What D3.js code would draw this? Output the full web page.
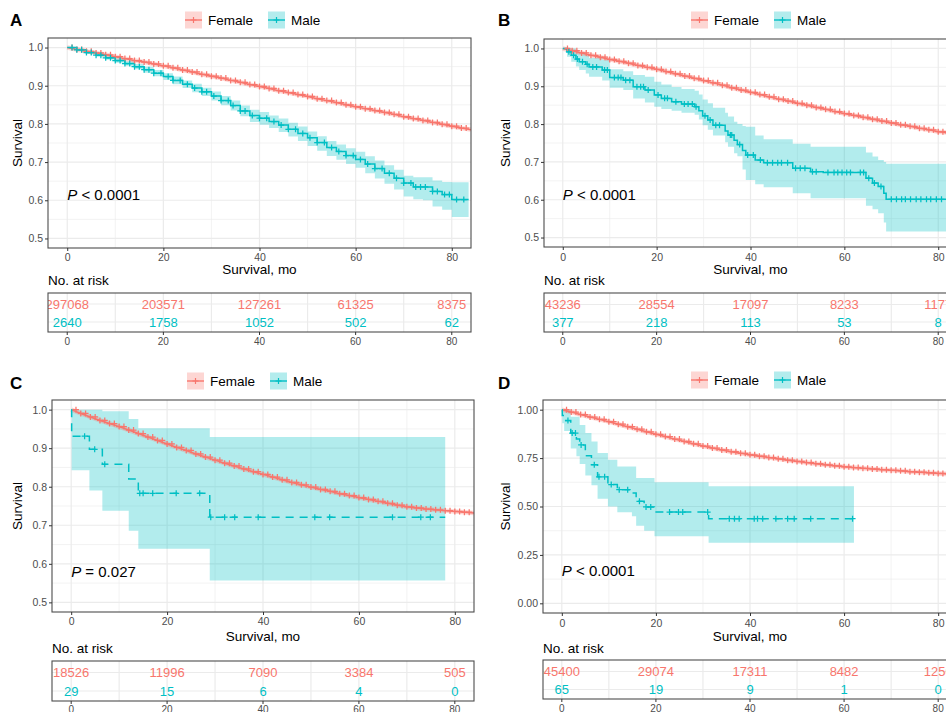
<!DOCTYPE html>
<html>
<head>
<meta charset="utf-8">
<script src="https://cdn.jsdelivr.net/npm/d3@7"></script>
<style>
  body { margin: 0; background: #fff; }
  text { font-family: "Liberation Sans", Arial, Helvetica, sans-serif; }
</style>
</head>
<body>
<svg id="chart" width="946" height="712"></svg>
<script>
// ---------- data ----------
const xTicks = [0, 20, 40, 60, 80];
const xMinor = [10, 30, 50, 70];
const yTicks = [0.5, 0.6, 0.7, 0.8, 0.9, 1.0];
const yMinor = [0.55, 0.65, 0.75, 0.85, 0.95];
const yTicksD = [0, 0.25, 0.5, 0.75, 1.0];
const yMinorD = [0.125, 0.375, 0.625, 0.875];
const groups = ["Female", "Male"];

// female curves, read every 2 months
const femT = [0,2,4,6,8,10,12,14,16,18,20,22,24,26,28,30,32,34,36,38,40,42,44,46,48,50,52,54,56,58,60,62,64,66,68,70,72,74,76,78,80,82,84];
const aFemale = [1.000,.995,.990,.986,.981,.976,.971,.966,.962,.957,.952,.947,.941,.936,.930,.925,.920,.914,.909,.903,.898,.893,.887,.882,.877,.872,.866,.861,.856,.850,.845,.840,.835,.830,.825,.819,.814,.809,.804,.799,.794,.789,.785];
const bFemale = [1.000,.994,.988,.982,.977,.971,.966,.961,.955,.950,.945,.939,.933,.927,.921,.915,.909,.903,.896,.890,.884,.878,.872,.866,.861,.855,.850,.844,.839,.833,.828,.823,.818,.813,.808,.803,.798,.794,.789,.785,.780,.777,.774];
const cFemale = [1.000,.990,.981,.972,.964,.956,.947,.938,.929,.920,.911,.902,.894,.885,.877,.869,.861,.854,.846,.839,.832,.825,.818,.811,.805,.799,.793,.788,.782,.777,.772,.767,.762,.757,.752,.748,.745,.742,.740,.738,.736,.734,.732];
const dFemale = [1.000,.988,.975,.962,.950,.938,.925,.912,.899,.886,.873,.861,.848,.836,.824,.812,.802,.792,.783,.775,.767,.760,.753,.746,.739,.733,.727,.721,.715,.710,.705,.701,.697,.694,.690,.687,.684,.680,.677,.674,.671,.668,.665];
const femaleCensor = [1,2,3,4,5,6,7,8,9,10,11,12,13,14,15,16,17,18,19,20,21,22,23,24,25,26,27,28,29,30,31,32,33,34,35,36,37,38,39,40,41,42,43,44,45,46,47,48,49,50,51,52,53,54,55,56,57,58,59,60,61,62,63,64,65,66,67,68,69,70,71,72,73,74,75,76,77,78,79,80,81,82,83];

// male step curves with 95% CI
const aMaleT = [0,2,4,6,8,10,12,14,16,18,20,22,24,26,28,30,32,34,36,38,40,42,44,46,48,50,52,54,56,58,60,62,64,66,68,70,72,74,76,78,80,82];
const aMaleS = [1.000,0.994,0.987,0.980,0.973,0.966,0.958,0.950,0.942,0.933,0.924,0.914,0.904,0.894,0.884,0.873,0.861,0.848,0.834,0.822,0.815,0.806,0.797,0.786,0.775,0.764,0.751,0.738,0.728,0.717,0.707,0.695,0.683,0.671,0.658,0.645,0.635,0.635,0.623,0.615,0.602,0.602];
const aMaleHi = [1.000,0.996,0.990,0.984,0.978,0.972,0.964,0.957,0.950,0.941,0.933,0.924,0.914,0.905,0.895,0.885,0.873,0.861,0.848,0.837,0.831,0.822,0.814,0.803,0.793,0.780,0.768,0.755,0.746,0.736,0.727,0.715,0.704,0.692,0.680,0.664,0.660,0.660,0.652,0.648,0.647,0.647];
const aMaleLo = [1.000,0.992,0.984,0.976,0.968,0.960,0.952,0.943,0.934,0.925,0.915,0.904,0.894,0.883,0.873,0.861,0.849,0.835,0.820,0.805,0.798,0.789,0.779,0.767,0.755,0.742,0.730,0.716,0.706,0.695,0.685,0.671,0.657,0.643,0.628,0.610,0.603,0.600,0.584,0.575,0.556,0.556];
const aMaleCensor = [1,2,3,4,5,6,7,8,9,10,11,12,13,14,15,16,17,18,19.5,21,22,23.5,25,26.5,28,29,30.5,32,33.5,34.5,36,37,38.5,40,41.5,43,44.5,46,47.5,49,50.5,52,53.5,55,56.5,58,59.5,61,62.5,64,65.5,67,68.5,70,71.5,72.5,73.5,74.5,76,77,78.5,79.5,81,82.5];

const bMaleT = [0,0.9,1.8,2.8,3.5,4.9,5.6,8.4,10.0,12.9,15.0,17.5,19.5,21.0,23.2,25.3,28.1,29.0,29.8,30.9,32.0,34.6,35.2,36.5,37.2,38.3,39.0,41.0,42.8,49.0,52.8,55.5,64.6,66.0,67.2,68.4,68.9];
const bMaleS = [1.000,0.991,0.982,0.972,0.965,0.958,0.951,0.943,0.923,0.916,0.899,0.890,0.877,0.868,0.859,0.853,0.846,0.835,0.822,0.811,0.797,0.782,0.771,0.757,0.746,0.730,0.718,0.705,0.698,0.683,0.674,0.672,0.657,0.644,0.635,0.617,0.601];
const bMaleHi = [1.000,1.000,1.000,0.995,0.990,0.985,0.975,0.970,0.945,0.940,0.930,0.925,0.912,0.905,0.898,0.893,0.888,0.878,0.865,0.855,0.843,0.830,0.820,0.806,0.800,0.795,0.793,0.770,0.760,0.748,0.740,0.740,0.725,0.714,0.705,0.700,0.695];
const bMaleLo = [1.000,0.978,0.965,0.952,0.943,0.934,0.925,0.915,0.896,0.890,0.868,0.857,0.846,0.840,0.835,0.830,0.825,0.812,0.797,0.785,0.770,0.752,0.740,0.723,0.715,0.680,0.652,0.641,0.633,0.617,0.604,0.604,0.584,0.575,0.564,0.540,0.516];
const bMaleCensor = [1.3,2.3,3.1,4.2,5.2,6.4,7.2,8.9,9.5,11.0,11.8,12.4,13.4,14.3,15.8,16.6,17.2,18.2,20.3,21.7,22.3,24.1,25.9,26.7,27.6,28.4,30.3,31.4,32.6,33.4,35.7,36.0,37.7,39.4,40.6,42.1,43.6,44.7,45.8,46.6,47.9,49.6,50.6,51.6,53.2,54.0,56.5,57.8,58.6,59.5,60.5,61.3,63.4,64.1,65.2,66.4,67.8,70.0,71.1,72.2,73.0,74.1,75.3,76.3,77.5,78.4,79.6,80.7];

const cMaleT = [0,0.1,3.8,6.5,12.0,14.0,28.9];
const cMaleS = [1.000,0.931,0.897,0.858,0.820,0.783,0.721];
const cMaleHi = [1.000,1.000,1.000,0.996,0.976,0.952,0.929];
const cMaleLo = [1.000,0.843,0.790,0.738,0.686,0.639,0.557];
const cMaleCensor = [2.8,4.9,7.0,14.3,15.0,17.0,21.9,26.8,29.1,32.0,34.1,39.0,50.8,53.9,67.0,72.9,74.9];

const dMaleT = [0,0.1,0.5,1.9,3.1,3.8,5.0,6.3,7.6,9.8,11.8,14.9,15.8,17.5,19.7,31.2];
const dMaleS = [1.000,0.970,0.944,0.879,0.848,0.818,0.762,0.716,0.653,0.613,0.587,0.570,0.527,0.498,0.471,0.437];
const dMaleHi = [1.000,1.000,1.000,0.964,0.964,0.921,0.879,0.836,0.776,0.742,0.707,0.707,0.647,0.647,0.625,0.604];
const dMaleLo = [1.000,0.930,0.890,0.800,0.760,0.720,0.660,0.610,0.540,0.500,0.470,0.450,0.400,0.375,0.347,0.313];
const dMaleCensor = [1.3,2.2,2.9,4.1,6.9,7.9,9.1,10.5,12.2,14.0,16.5,17.9,18.9,22.9,24.8,25.7,31.0,35.6,36.7,37.7,40.9,41.6,42.7,45.5,48.0,49.4,52.9,61.8];

// numbers at risk at 0, 20, 40, 60, 80 months
const aRiskFemale = [297068, 203571, 127261, 61325, 8375];
const aRiskMale = [2640, 1758, 1052, 502, 62];
const bRiskFemale = [43236, 28554, 17097, 8233, 1177];
const bRiskMale = [377, 218, 113, 53, 8];
const cRiskFemale = [18526, 11996, 7090, 3384, 505];
const cRiskMale = [29, 15, 6, 4, 0];
const dRiskFemale = [45400, 29074, 17311, 8482, 1250];
const dRiskMale = [65, 19, 9, 1, 0];

const pValues = ["< 0.0001", "< 0.0001", "= 0.027", "< 0.0001"];

// ---------- layout ----------
const femaleColor = "#F8766D", maleColor = "#00BFC4";
const femaleKey = "#FDD6D3", maleKey = "#B3ECED";
const xDomain = [-4, 84];

const panels = [
  {letter: "A", left: 48, right: 471, top: 38, bottom: 248, yDomain: [0.475, 1.025], yTicks: yTicks, yMinor: yMinor, fmt: ".1f",
   legendX: 185, legendY: 20, letterX: 10, letterY: 26, yTitleX: 17, pY: 0.60,
   tickY: 257, titleY: 269, narY: 280, riskTop: 293, riskBottom: 332, rowF: 304, rowM: 322, riskTickY: 341,
   female: aFemale, male: {t: aMaleT, s: aMaleS, hi: aMaleHi, lo: aMaleLo, end: 83.5, censor: aMaleCensor}, dashed: false,
   riskF: aRiskFemale, riskM: aRiskMale, p: pValues[0]},
  {letter: "B", left: 544, right: 957, top: 39, bottom: 247, yDomain: [0.475, 1.025], yTicks: yTicks, yMinor: yMinor, fmt: ".1f",
   legendX: 691, legendY: 20, letterX: 498, letterY: 26, yTitleX: 505, pY: 0.60,
   tickY: 257, titleY: 269, narY: 280, riskTop: 293, riskBottom: 332, rowF: 304.5, rowM: 322, riskTickY: 341,
   female: bFemale, male: {t: bMaleT, s: bMaleS, hi: bMaleHi, lo: bMaleLo, end: 84, censor: bMaleCensor}, dashed: false,
   riskF: bRiskFemale, riskM: bRiskMale, p: pValues[1]},
  {letter: "C", left: 52, right: 474, top: 400, bottom: 612, yDomain: [0.475, 1.025], yTicks: yTicks, yMinor: yMinor, fmt: ".1f",
   legendX: 187, legendY: 381, letterX: 10, letterY: 389, yTitleX: 17, pY: 0.566,
   tickY: 621, titleY: 636, narY: 648, riskTop: 661, riskBottom: 701, rowF: 672.5, rowM: 691, riskTickY: 709,
   female: cFemale, male: {t: cMaleT, s: cMaleS, hi: cMaleHi, lo: cMaleLo, end: 78, censor: cMaleCensor}, dashed: true,
   riskF: cRiskFemale, riskM: cRiskMale, p: pValues[2]},
  {letter: "D", left: 543, right: 957, top: 400, bottom: 613, yDomain: [-0.05, 1.05], yTicks: yTicksD, yMinor: yMinorD, fmt: ".2f",
   legendX: 691, legendY: 380, letterX: 498, letterY: 389, yTitleX: 505, pY: 0.14,
   tickY: 622.5, titleY: 636, narY: 648, riskTop: 660, riskBottom: 699, rowF: 671.5, rowM: 689.5, riskTickY: 708,
   female: dFemale, male: {t: dMaleT, s: dMaleS, hi: dMaleHi, lo: dMaleLo, end: 62.1, censor: dMaleCensor}, dashed: true,
   riskF: dRiskFemale, riskM: dRiskMale, p: pValues[3]}
];

const svg = d3.select("#chart");
const crossPath = "M-3,0H3M0,-3V3";

// value of a step curve at time t
function stepAt(ts, vs, t) {
  const i = d3.bisectRight(ts, t) - 1;
  return vs[Math.max(0, i)];
}

panels.forEach(drawPanel);

function drawPanel(p) {
  const x = d3.scaleLinear().domain(xDomain).range([p.left, p.right]);
  const y = d3.scaleLinear().domain(p.yDomain).range([p.bottom, p.top]);
  const g = svg.append("g");
  const clipId = "clip" + p.letter;

  svg.append("clipPath").attr("id", clipId)
    .append("rect").attr("x", p.left).attr("y", p.top)
    .attr("width", p.right - p.left).attr("height", p.bottom - p.top);

  // grid
  const grid = g.append("g").attr("clip-path", `url(#${clipId})`);
  grid.selectAll(".vmin").data(xMinor).enter().append("line")
    .attr("x1", d => x(d)).attr("x2", d => x(d)).attr("y1", p.top).attr("y2", p.bottom)
    .attr("stroke", "#EBEBEB").attr("stroke-width", 0.6);
  grid.selectAll(".hmin").data(p.yMinor).enter().append("line")
    .attr("x1", p.left).attr("x2", p.right).attr("y1", d => y(d)).attr("y2", d => y(d))
    .attr("stroke", "#EBEBEB").attr("stroke-width", 0.6);
  grid.selectAll(".vmaj").data(xTicks).enter().append("line")
    .attr("x1", d => x(d)).attr("x2", d => x(d)).attr("y1", p.top).attr("y2", p.bottom)
    .attr("stroke", "#EBEBEB").attr("stroke-width", 1.2);
  grid.selectAll(".hmaj").data(p.yTicks).enter().append("line")
    .attr("x1", p.left).attr("x2", p.right).attr("y1", d => y(d)).attr("y2", d => y(d))
    .attr("stroke", "#EBEBEB").attr("stroke-width", 1.2);

  const curves = g.append("g").attr("clip-path", `url(#${clipId})`);

  // male confidence band
  const m = p.male;
  const mPts = m.t.map((t, i) => ({t: t, s: m.s[i], hi: m.hi[i], lo: m.lo[i]}));
  const last = mPts[mPts.length - 1];
  mPts.push({t: m.end, s: last.s, hi: last.hi, lo: last.lo});
  curves.append("path").datum(mPts)
    .attr("d", d3.area().curve(d3.curveStepAfter).x(d => x(d.t)).y0(d => y(d.lo)).y1(d => y(d.hi)))
    .attr("fill", maleColor).attr("fill-opacity", 0.3);

  // female curve (slight band + line)
  const fPts = femT.map((t, i) => ({t: t, s: p.female[i]}));
  const fLine = d3.line().x(d => x(d.t)).y(d => y(d.s));
  curves.append("path").datum(fPts).attr("d", fLine)
    .attr("fill", "none").attr("stroke", femaleColor).attr("stroke-opacity", 0.3).attr("stroke-width", 4.5);
  curves.append("path").datum(fPts).attr("d", fLine)
    .attr("fill", "none").attr("stroke", femaleColor).attr("stroke-width", 1.5);

  // male curve
  curves.append("path").datum(mPts)
    .attr("d", d3.line().curve(d3.curveStepAfter).x(d => x(d.t)).y(d => y(d.s)))
    .attr("fill", "none").attr("stroke", maleColor).attr("stroke-width", 1.5)
    .attr("stroke-dasharray", p.dashed ? "8,6" : null);

  // censor marks
  curves.selectAll(".fc").data(femaleCensor).enter().append("path")
    .attr("transform", t => `translate(${x(t)},${y(stepAt(femT, p.female, t))})`)
    .attr("d", crossPath).attr("stroke", femaleColor).attr("stroke-width", 1.25).attr("fill", "none");
  curves.selectAll(".mc").data(m.censor).enter().append("path")
    .attr("transform", t => `translate(${x(t)},${y(stepAt(m.t, m.s, t))})`)
    .attr("d", crossPath).attr("stroke", maleColor).attr("stroke-width", 1.25).attr("fill", "none");

  // border
  g.append("rect").attr("x", p.left).attr("y", p.top)
    .attr("width", p.right - p.left).attr("height", p.bottom - p.top)
    .attr("fill", "none").attr("stroke", "#4D4D4D").attr("stroke-width", 1.1);

  // axes
  const xAxis = g.append("g").attr("transform", `translate(0,${p.bottom})`)
    .call(d3.axisBottom(x).tickValues(xTicks).tickSize(3).tickPadding(2));
  xAxis.select(".domain").remove();
  xAxis.selectAll("line").attr("stroke", "#333");
  xAxis.selectAll("text").attr("y", null).attr("dy", null)
    .attr("transform", `translate(0,${p.tickY - p.bottom})`).attr("dominant-baseline", "central")
    .attr("fill", "#4D4D4D").style("font-size", "10.5px").style("font-family", null);

  const yAxis = g.append("g").attr("transform", `translate(${p.left},0)`)
    .call(d3.axisLeft(y).tickValues(p.yTicks).tickSize(3).tickPadding(2).tickFormat(d3.format(p.fmt)));
  yAxis.select(".domain").remove();
  yAxis.selectAll("line").attr("stroke", "#333");
  yAxis.selectAll("text").attr("fill", "#4D4D4D").style("font-size", "10.5px").style("font-family", null);

  // titles
  g.append("text").attr("transform", `translate(${p.yTitleX},${(p.top + p.bottom) / 2}) rotate(-90)`)
    .attr("text-anchor", "middle").attr("dominant-baseline", "central")
    .style("font-size", "13.5px").text("Survival");
  g.append("text").attr("x", (p.left + p.right) / 2).attr("y", p.titleY)
    .attr("text-anchor", "middle").attr("dominant-baseline", "central")
    .style("font-size", "13.5px").text("Survival, mo");
  g.append("text").attr("x", p.letterX).attr("y", p.letterY)
    .style("font-size", "17px").style("font-weight", "bold").text(p.letter);

  // p value
  const pt = g.append("text").attr("x", x(0)).attr("y", y(p.pY)).style("font-size", "15px");
  pt.append("tspan").style("font-style", "italic").text("P");
  pt.append("tspan").text(" " + p.p);

  // legend
  const lg = g.append("g").attr("transform", `translate(${p.legendX},${p.legendY})`);
  groups.forEach((name, i) => {
    const off = i * 83;
    const col = i === 0 ? femaleColor : maleColor;
    lg.append("rect").attr("x", off).attr("y", -8.5).attr("width", 17).attr("height", 17)
      .attr("fill", i === 0 ? femaleKey : maleKey);
    lg.append("line").attr("x1", off).attr("x2", off + 17).attr("y1", 0).attr("y2", 0)
      .attr("stroke", col).attr("stroke-width", 1.4);
    lg.append("path").attr("transform", `translate(${off + 8.5},0)`).attr("d", crossPath)
      .attr("stroke", col).attr("stroke-width", 1.2);
    lg.append("text").attr("x", off + 23).attr("y", 0).attr("dominant-baseline", "central")
      .style("font-size", "13.5px").text(name);
  });

  // risk table
  g.append("text").attr("x", p.left).attr("y", p.narY).attr("dominant-baseline", "central")
    .style("font-size", "13.5px").text("No. at risk");
  const rClip = "rclip" + p.letter;
  svg.append("clipPath").attr("id", rClip)
    .append("rect").attr("x", p.left).attr("y", p.riskTop)
    .attr("width", p.right - p.left).attr("height", p.riskBottom - p.riskTop);
  const rt = g.append("g").attr("clip-path", `url(#${rClip})`);
  rt.selectAll(".rv").data(xTicks.concat(xMinor)).enter().append("line")
    .attr("x1", d => x(d)).attr("x2", d => x(d)).attr("y1", p.riskTop).attr("y2", p.riskBottom)
    .attr("stroke", "#EBEBEB").attr("stroke-width", 1.2);
  rt.selectAll(".rh").data([p.rowF, p.rowM]).enter().append("line")
    .attr("x1", p.left).attr("x2", p.right).attr("y1", d => d).attr("y2", d => d)
    .attr("stroke", "#EBEBEB").attr("stroke-width", 1.2);
  rt.selectAll(".rf").data(p.riskF).enter().append("text")
    .attr("x", (d, i) => x(xTicks[i])).attr("y", p.rowF)
    .attr("text-anchor", "middle").attr("dominant-baseline", "central")
    .attr("fill", femaleColor).style("font-size", "13px").text(d => d);
  rt.selectAll(".rm").data(p.riskM).enter().append("text")
    .attr("x", (d, i) => x(xTicks[i])).attr("y", p.rowM)
    .attr("text-anchor", "middle").attr("dominant-baseline", "central")
    .attr("fill", maleColor).style("font-size", "13px").text(d => d);
  g.append("rect").attr("x", p.left).attr("y", p.riskTop)
    .attr("width", p.right - p.left).attr("height", p.riskBottom - p.riskTop)
    .attr("fill", "none").attr("stroke", "#4D4D4D").attr("stroke-width", 1.1);
  g.selectAll(".rtick").data(xTicks).enter().append("line")
    .attr("x1", d => x(d)).attr("x2", d => x(d)).attr("y1", p.riskBottom).attr("y2", p.riskBottom + 3)
    .attr("stroke", "#333");
  g.selectAll(".rtl").data(xTicks).enter().append("text")
    .attr("x", d => x(d)).attr("y", p.riskTickY)
    .attr("text-anchor", "middle").attr("dominant-baseline", "central")
    .attr("fill", "#4D4D4D").style("font-size", "10px").text(d => d);
}
</script>
</body>
</html>
